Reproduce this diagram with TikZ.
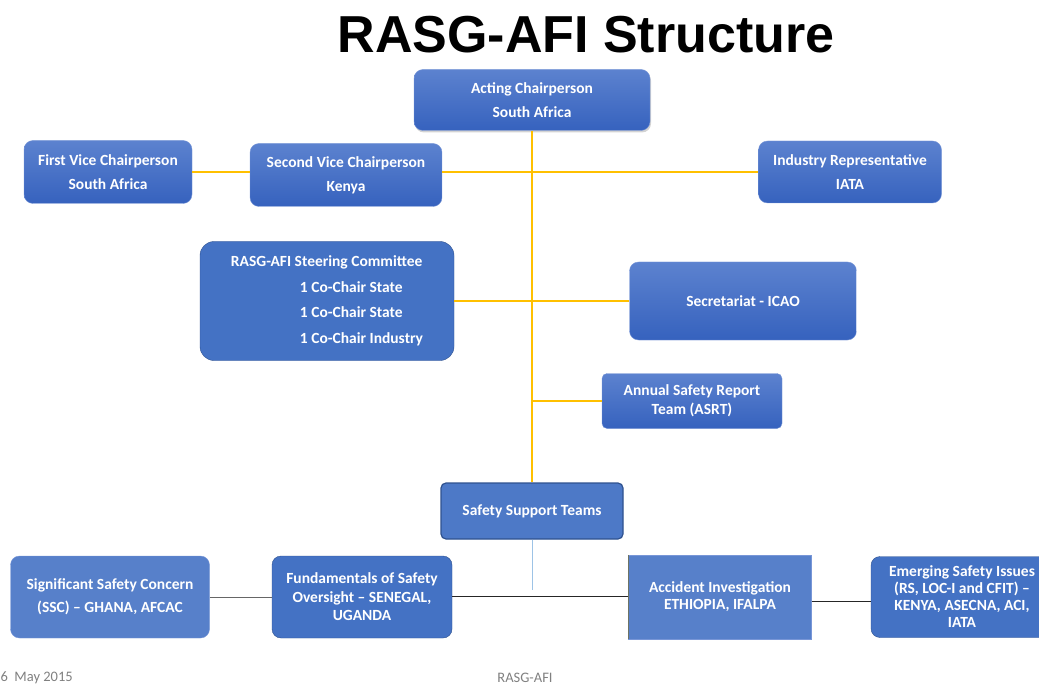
\documentclass[tikz,border=0pt]{standalone}
\usepackage{fontspec}
\setmainfont{Carlito}
\newfontfamily\titlefont{Liberation Sans}
\usetikzlibrary{shadows}
\usetikzlibrary{positioning}
\usetikzlibrary{calc}

\definecolor{boxtop}{RGB}{92,130,207}
\definecolor{boxbot}{RGB}{54,98,190}
\definecolor{boxedge}{RGB}{120,150,215}
\definecolor{flatblue}{RGB}{68,114,196}
\definecolor{darkedge}{RGB}{47,82,143}
\definecolor{linkgold}{RGB}{255,192,0}
\definecolor{linkblue}{RGB}{157,195,230}

\begin{document}
\begin{tikzpicture}
[x=1pt,y=-1pt,
box/.style={rounded corners=9pt,draw=boxedge,top color=boxtop,bottom color=boxbot,text=white,font=\bfseries\fontsize{15.5}{24}\selectfont,align=center,inner sep=0pt},
flatbox/.style={rounded corners=9pt,draw=darkedge,fill=flatblue,text=white,font=\bfseries\fontsize{15.5}{18.5}\selectfont,align=center,inner sep=0pt},
gold/.style={linkgold,line width=1.4pt},
dark/.style={black!85,line width=1pt}]
\useasboundingbox (0,0) rectangle (1039,687);

\node[font=\titlefont\bfseries\fontsize{52}{60}\selectfont] (title) at (586,35) {RASG-AFI Structure};

\node[box,minimum width=236pt,minimum height=61pt,drop shadow={opacity=0.35,shadow xshift=1pt,shadow yshift=-2pt}] (chair) at (532,100) {Acting Chairperson\\South Africa};
\node[box,minimum width=168pt,minimum height=63pt] (vice1) at (108,172) {First Vice Chairperson\\South Africa};
\node[box,minimum width=192pt,minimum height=63pt] (vice2) at (346,175) {Second Vice Chairperson\\Kenya};
\node[box,minimum width=183pt,minimum height=62pt] (industry) at (850,172) {Industry Representative\\IATA};
\node[flatbox,rounded corners=14pt,minimum width=254pt,minimum height=119pt,font=\bfseries\fontsize{15.5}{25.5}\selectfont,align=left] (steer) at (327,301) {RASG-AFI Steering Committee\\\hspace*{69pt}1 Co-Chair State\\\hspace*{69pt}1 Co-Chair State\\\hspace*{69pt}1 Co-Chair Industry};
\node[box,minimum width=227pt,minimum height=78pt] (secr) at (743,301) {Secretariat - ICAO};
\node[box,rounded corners=5pt,minimum width=180pt,minimum height=55pt,font=\bfseries\fontsize{15.5}{19}\selectfont] (asrt) at (692,401) {Annual Safety Report\\Team (ASRT)};
\node[flatbox,rounded corners=5pt,fill=flatblue!95!white,line width=1.2pt,minimum width=182pt,minimum height=56pt] (sst) at (532,511) {Safety Support Teams};

\node[flatbox,draw=boxedge,fill=flatblue!90!white,minimum width=199pt,minimum height=82pt,font=\bfseries\fontsize{15.5}{23}\selectfont] (ssc) at (110,597) {Significant Safety Concern\\(SSC) -- GHANA, AFCAC};
\node[flatbox,minimum width=180pt,minimum height=82pt] (fund) at (362,597) {Fundamentals of Safety\\Oversight -- SENEGAL,\\UGANDA};
\node[flatbox,rounded corners=0pt,draw=boxedge,fill=flatblue!90!white,minimum width=183pt,minimum height=84pt,font=\bfseries\fontsize{15.5}{17}\selectfont] (accident) at (720,597) {Accident Investigation\\ETHIOPIA, IFALPA};
\draw[darkedge!70!linkgold,line width=1.2pt] (accident.north west) -- (accident.south west);
\node[flatbox,minimum width=182pt,minimum height=81pt,font=\bfseries\fontsize{15.5}{17}\selectfont] (emerging) at (962,597) {Emerging Safety Issues\\(RS, LOC-I and CFIT) --\\KENYA, ASECNA, ACI,\\IATA};

\coordinate (hub) at (532,172);
\coordinate (low) at (532,401);
\coordinate (stub) at (532,590);

\draw[gold] (chair.south) -- (sst.north);
\draw[gold] (vice1.east) -- (vice1.east -| vice2.west);
\draw[gold] (vice2.east |- hub) -- (industry.west);
\draw[gold] (steer.east) -- (secr.west);
\draw[gold] (low) -- (asrt.west);
\draw[linkblue,line width=1pt] (sst.south) -- (stub);
\draw[black!60,line width=1pt] (ssc.east) -- (fund.west);
\draw[dark] ([yshift=1pt]fund.east) -- ([yshift=1pt]accident.west);
\draw[dark] ([yshift=-4pt]accident.east) -- ([yshift=-4pt]emerging.west);

\node[anchor=west,text=gray,font=\fontsize{14.5}{16}\selectfont] (date) at (-3,678) {6\ \ May 2015};
\node[text=gray,font=\fontsize{14.5}{16}\selectfont] (foot) at (525,678) {RASG-AFI};
\end{tikzpicture}
\end{document}
